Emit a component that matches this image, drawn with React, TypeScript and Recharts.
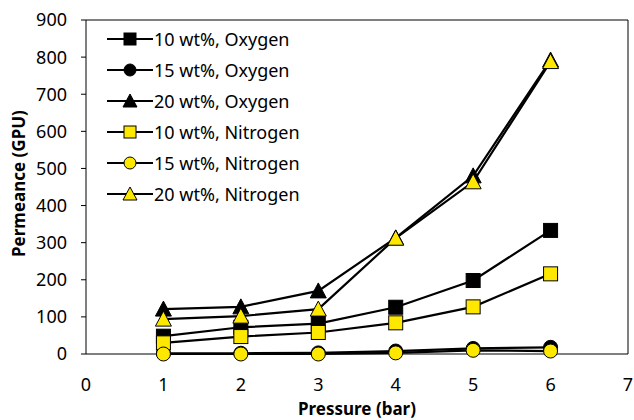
import React from "react";
import { Line, LineChart, ReferenceLine, XAxis, YAxis } from "recharts";

const pressure = [1, 2, 3, 4, 5, 6];
const oxygen10 = [48, 72, 82, 126, 198, 333];
const oxygen15 = [2, 2, 3, 8, 15, 18];
const oxygen20 = [121, 127, 170, 313, 480, 792];
const nitrogen10 = [30, 47, 58, 84, 127, 216];
const nitrogen15 = [0, 0, 0, 3, 10, 8];
const nitrogen20 = [94, 102, 121, 312, 464, 788];
const yTicks = [0, 100, 200, 300, 400, 500, 600, 700, 800, 900];
const xTicks = [0, 1, 2, 3, 4, 5, 6, 7];

const YELLOW = "#FFE800";
const FONT = "'Noto Sans', sans-serif";

type Shape = "square" | "circle" | "triangle";

const SERIES: Array<{ key: string; name: string; values: number[]; shape: Shape; fill: string }> = [
  { key: "o10", name: "10 wt%, Oxygen", values: oxygen10, shape: "square", fill: "#000" },
  { key: "o15", name: "15 wt%, Oxygen", values: oxygen15, shape: "circle", fill: "#000" },
  { key: "o20", name: "20 wt%, Oxygen", values: oxygen20, shape: "triangle", fill: "#000" },
  { key: "n10", name: "10 wt%, Nitrogen", values: nitrogen10, shape: "square", fill: YELLOW },
  { key: "n15", name: "15 wt%, Nitrogen", values: nitrogen15, shape: "circle", fill: YELLOW },
  { key: "n20", name: "20 wt%, Nitrogen", values: nitrogen20, shape: "triangle", fill: YELLOW },
];

const data = pressure.map((p, i) => {
  const row: Record<string, number> = { p };
  SERIES.forEach((s) => (row[s.key] = s.values[i]));
  return row;
});

function Marker({ cx, cy, shape, fill, size }: { cx: number; cy: number; shape: Shape; fill: string; size: number }) {
  const h = size / 2;
  if (shape === "square")
    return <rect x={cx - h} y={cy - h} width={size} height={size} fill={fill} stroke="#000" strokeWidth={1} />;
  if (shape === "circle") return <circle cx={cx} cy={cy} r={h} fill={fill} stroke="#000" strokeWidth={1} />;
  return (
    <polygon
      points={`${cx},${cy - h - 1} ${cx + h + 1},${cy + h} ${cx - h - 1},${cy + h}`}
      fill={fill}
      stroke="#000"
      strokeWidth={1}
    />
  );
}

const renderDot = (shape: Shape, fill: string) => (props: any) =>
  <Marker key={`${shape}-${fill}-${props.index}`} cx={props.cx} cy={props.cy} shape={shape} fill={fill} size={14} />;

function LegendBox() {
  return (
    <div style={{ position: "absolute", left: 107, top: 23, fontFamily: FONT, fontSize: 18, color: "#000" }}>
      {SERIES.map((s) => (
        <div key={s.key} style={{ display: "flex", alignItems: "center", height: 31 }}>
          <svg width={46} height={20} style={{ marginRight: 1 }}>
            <line x1={0} y1={10} x2={46} y2={10} stroke="#000" strokeWidth={2} />
            <Marker cx={23} cy={10} shape={s.shape} fill={s.fill} size={12} />
          </svg>
          <span>{s.name}</span>
        </div>
      ))}
    </div>
  );
}

export default function App() {
  return (
    <div style={{ position: "absolute", left: 0, top: 0, width: 634, height: 420, background: "#fff" }}>
      <LineChart width={634} height={420} data={data} margin={{ top: 20, right: 6, bottom: 36, left: 30 }}>
        <XAxis
          dataKey="p"
          type="number"
          domain={[0, 7]}
          ticks={xTicks}
          interval={0}
          height={30}
          tickLine={false}
          axisLine={{ stroke: "#000", strokeWidth: 1 }}
          tick={{ fill: "#000", fontSize: 18, fontFamily: FONT }}
          tickMargin={18}
          label={{ value: "Pressure (bar)", position: "insideBottom", offset: -31, fill: "#000", fontSize: 17, fontWeight: 700, fontFamily: FONT }}
        />
        <YAxis
          type="number"
          domain={[0, 900]}
          ticks={yTicks}
          interval={0}
          width={56}
          tickSize={5}
          tickMargin={14}
          tickLine={{ stroke: "#000" }}
          axisLine={{ stroke: "#000", strokeWidth: 1 }}
          tick={{ fill: "#000", fontSize: 18, fontFamily: FONT }}
          label={{ value: "Permeance (GPU)", angle: -90, position: "insideLeft", offset: -11, dy: 70, fill: "#000", fontSize: 17, fontWeight: 700, fontFamily: FONT }}
        />
        <ReferenceLine y={900} stroke="#000" strokeWidth={1} />
        <ReferenceLine x={7} stroke="#000" strokeWidth={1} />
        {SERIES.map((s) => (
          <Line
            key={s.key}
            dataKey={s.key}
            name={s.name}
            stroke="#000"
            strokeWidth={2.2}
            dot={renderDot(s.shape, s.fill)}
            activeDot={false}
            isAnimationActive={false}
          />
        ))}
      </LineChart>
      <LegendBox />
    </div>
  );
}
